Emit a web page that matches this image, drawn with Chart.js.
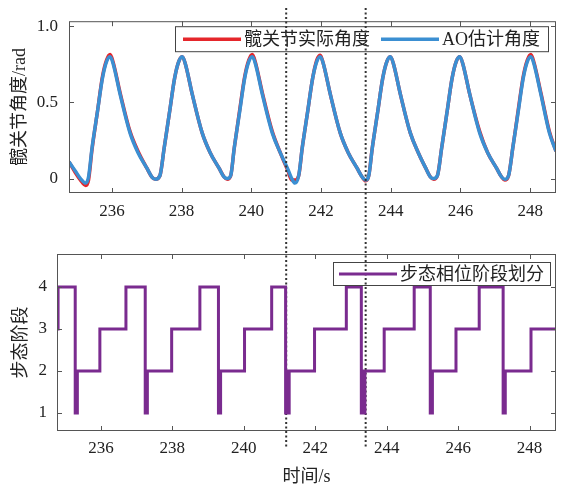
<!DOCTYPE html>
<html>
<head>
<meta charset="utf-8">
<script src="https://cdn.jsdelivr.net/npm/chart.js@4.4.1/dist/chart.umd.min.js"></script>
<style>
  html, body { margin: 0; padding: 0; background: #fff; overflow: hidden; }
  #wrap { position: relative; width: 570px; height: 485px; }
  canvas { position: absolute; left: 0; }
  #angleChart { top: 0; }
  #phaseChart { top: 230px; }
</style>
</head>
<body>
<div id="wrap">
  <canvas id="angleChart" width="570" height="485"></canvas>
  <canvas id="phaseChart" width="570" height="258"></canvas>
</div>
<script>
// hip angle, top panel
const time = [
  234.77, 234.95, 235.1, 235.25,
  235.33, 235.43, 235.58, 235.73, 235.85, 235.95,
  236.03, 236.24, 236.52, 236.75, 237.0, 237.15, 237.25,
  237.38, 237.5, 237.65, 237.8, 237.92, 238.02,
  238.1, 238.31, 238.59, 238.82, 239.07, 239.22, 239.31,
  239.41, 239.51, 239.66, 239.81, 239.93, 240.03,
  240.11, 240.32, 240.6, 240.83, 241.05, 241.16, 241.25,
  241.36, 241.46, 241.61, 241.76, 241.88, 241.98,
  242.06, 242.27, 242.55, 242.78, 243.03, 243.18, 243.28,
  243.37, 243.47, 243.62, 243.77, 243.89, 243.99,
  244.07, 244.28, 244.56, 244.79, 245.0, 245.14, 245.23,
  245.34, 245.46, 245.61, 245.76, 245.88, 245.98,
  246.06, 246.27, 246.55, 246.78, 247.03, 247.18, 247.27,
  247.38, 247.5, 247.65, 247.8, 247.92, 248.02,
  248.1, 248.31, 248.55, 248.74
];
const actualAngle = [
  0.11, 0.04, -0.01, -0.045,
  -0.01, 0.19, 0.43, 0.67, 0.78, 0.815,
  0.77, 0.56, 0.31, 0.18, 0.07, 0.01, -0.005,
  0.02, 0.2, 0.43, 0.66, 0.77, 0.80,
  0.76, 0.55, 0.30, 0.17, 0.07, 0.01, -0.005,
  0.02, 0.2, 0.44, 0.67, 0.78, 0.815,
  0.77, 0.56, 0.31, 0.17, 0.05, -0.01, -0.01,
  0.02, 0.2, 0.43, 0.66, 0.78, 0.81,
  0.76, 0.55, 0.30, 0.17, 0.07, 0.01, -0.015,
  0.02, 0.2, 0.43, 0.66, 0.77, 0.80,
  0.76, 0.55, 0.30, 0.17, 0.07, 0.01, -0.005,
  0.02, 0.2, 0.43, 0.66, 0.77, 0.80,
  0.76, 0.55, 0.31, 0.17, 0.07, 0.01, -0.01,
  0.02, 0.2, 0.44, 0.67, 0.78, 0.815,
  0.77, 0.56, 0.31, 0.18
];
const aoAngle = [
  0.11, 0.05, 0.0, -0.03,
  0.01, 0.2, 0.43, 0.66, 0.77, 0.80,
  0.76, 0.55, 0.30, 0.17, 0.07, 0.01, -0.005,
  0.02, 0.2, 0.43, 0.66, 0.77, 0.80,
  0.76, 0.55, 0.30, 0.17, 0.07, 0.01, 0.0,
  0.02, 0.2, 0.43, 0.66, 0.77, 0.80,
  0.76, 0.55, 0.30, 0.17, 0.06, 0.0, -0.03,
  0.02, 0.2, 0.43, 0.66, 0.77, 0.80,
  0.76, 0.55, 0.30, 0.17, 0.07, 0.01, -0.01,
  0.02, 0.2, 0.43, 0.66, 0.77, 0.80,
  0.76, 0.55, 0.30, 0.17, 0.07, 0.01, 0.0,
  0.02, 0.2, 0.43, 0.66, 0.77, 0.80,
  0.76, 0.55, 0.30, 0.17, 0.07, 0.01, -0.005,
  0.02, 0.2, 0.43, 0.66, 0.77, 0.80,
  0.76, 0.55, 0.30, 0.18
];

// gait phase, bottom panel
const stepTimes = [
  234.77, 234.8, 235.28, 235.3, 235.32, 235.34, 235.97, 236.7,
  237.24, 237.26, 237.28, 237.3, 237.98, 238.77,
  239.29, 239.31, 239.33, 239.35, 240.02, 240.78,
  241.17, 241.19, 241.21, 241.23, 241.25, 241.27, 241.98, 242.87,
  243.29, 243.31, 243.33, 243.35, 243.37, 243.39, 243.93, 244.77,
  245.22, 245.24, 245.26, 245.28, 245.94, 246.59,
  247.26, 247.28, 247.3, 247.32, 248.04, 248.74
];
const gaitPhase = [
  3, 4, 1, 2, 1, 2, 3, 4,
  1, 2, 1, 2, 3, 4,
  1, 2, 1, 2, 3, 4,
  1, 2, 1, 2, 1, 2, 3, 4,
  1, 2, 1, 2, 1, 2, 3, 4,
  1, 2, 1, 2, 3, 4,
  1, 2, 1, 2, 3, 3
];

const timeTicks = [236, 238, 240, 242, 244, 246, 248];
const angleTicks = [0, 0.5, 1.0];
const angleTickLabels = ['0', '0.5', '1.0'];
const phaseTicks = [1, 2, 3, 4];
const markerTimes = [241.0, 243.28];

const serif = "'Liberation Serif', 'Noto Sans CJK SC', serif";
const tickFont = { family: serif, size: 17 };
const titleFont = { family: serif, size: 18 };

const framePlugin = {
  id: 'frame',
  afterDatasetsDraw(chart) {
    const { ctx, chartArea: a, scales: { x, y } } = chart;
    ctx.save();
    ctx.strokeStyle = '#555';
    ctx.lineWidth = 1;
    ctx.strokeRect(a.left + 0.5, a.top + 0.5, a.width - 1, a.height - 1);
    ctx.beginPath();
    x.ticks.forEach(t => {
      const px = Math.round(x.getPixelForValue(t.value)) + 0.5;
      ctx.moveTo(px, a.bottom); ctx.lineTo(px, a.bottom - 5);
      ctx.moveTo(px, a.top); ctx.lineTo(px, a.top + 5);
    });
    y.ticks.forEach(t => {
      const py = Math.round(y.getPixelForValue(t.value)) + 0.5;
      ctx.moveTo(a.left, py); ctx.lineTo(a.left + 5, py);
      ctx.moveTo(a.right, py); ctx.lineTo(a.right - 5, py);
    });
    ctx.stroke();
    ctx.restore();
  }
};

const boxLegend = {
  id: 'boxLegend',
  afterDraw(chart, args, opts) {
    const { ctx, chartArea: a } = chart;
    ctx.save();
    ctx.font = `${titleFont.size}px ${serif}`;
    const items = chart.data.datasets.map(ds => ({ ds, w: ctx.measureText(ds.label).width }));
    let width = opts.pad * 2 + opts.spacing * (items.length - 1);
    items.forEach(it => { width += opts.sample + opts.gap + it.w; });
    const left = a.right - opts.right - width;
    const top = a.top + opts.top;
    ctx.strokeStyle = '#444';
    ctx.lineWidth = 1;
    ctx.strokeRect(Math.round(left) + 0.5, top + 0.5, Math.round(width), opts.height);
    let xPos = left + opts.pad;
    const cy = top + opts.height / 2 + 0.5;
    items.forEach(it => {
      ctx.strokeStyle = it.ds.borderColor;
      ctx.lineWidth = it.ds.borderWidth;
      ctx.beginPath();
      ctx.moveTo(xPos, cy);
      ctx.lineTo(xPos + opts.sample, cy);
      ctx.stroke();
      xPos += opts.sample + opts.gap;
      ctx.fillStyle = '#222';
      ctx.textBaseline = 'middle';
      ctx.fillText(it.ds.label, xPos, cy + 1);
      xPos += it.w + opts.spacing;
    });
    ctx.restore();
  }
};

const markerPlugin = {
  id: 'phaseMarkers',
  afterDraw(chart) {
    const { ctx, scales: { x } } = chart;
    ctx.save();
    ctx.strokeStyle = '#333';
    ctx.lineWidth = 2;
    ctx.setLineDash([2, 2.5]);
    markerTimes.forEach(t => {
      const px = x.getPixelForValue(t);
      ctx.beginPath();
      ctx.moveTo(px, 8);
      ctx.lineTo(px, chart.height - 38);
      ctx.stroke();
    });
    ctx.restore();
  }
};

const xScale = (height, padding, title) => ({
  type: 'linear',
  min: 234.77,
  max: 248.74,
  afterBuildTicks: s => { s.ticks = timeTicks.map(v => ({ value: v })); },
  afterFit: s => { s.height = height; },
  grid: { display: false, drawTicks: false },
  border: { display: false },
  ticks: { padding, font: tickFont, color: '#222', maxRotation: 0 },
  title: title ? { display: true, text: title, font: titleFont, color: '#222', padding: { top: 0, bottom: 0 } } : { display: false }
});

new Chart(document.getElementById('angleChart'), {
  type: 'line',
  data: {
    datasets: [
      {
        label: '髋关节实际角度',
        data: time.map((t, i) => ({ x: t, y: actualAngle[i] })),
        borderColor: '#e5262b',
        borderWidth: 3.5,
        order: 1
      },
      {
        label: 'AO估计角度',
        data: time.map((t, i) => ({ x: t, y: aoAngle[i] })),
        borderColor: '#3b8fd2',
        borderWidth: 3.5,
        order: 0
      }
    ]
  },
  options: {
    responsive: false,
    animation: false,
    layout: { padding: { top: 18, right: 14, bottom: 262, left: 0 } },
    elements: { point: { radius: 0 }, line: { cubicInterpolationMode: 'monotone' } },
    plugins: {
      legend: { display: false },
      tooltip: { enabled: false },
      boxLegend: { right: 8, top: 5, height: 25, pad: 8, sample: 58, gap: 3, spacing: 11 }
    },
    scales: {
      x: xScale(30, 8),
      y: {
        min: -0.095,
        max: 1.034,
        afterBuildTicks: s => { s.ticks = angleTicks.map(v => ({ value: v })); },
        afterFit: s => { s.width = 69; },
        grid: { display: false, drawTicks: false },
        border: { display: false },
        ticks: { padding: 11, font: tickFont, color: '#222', callback: (v, i) => angleTickLabels[i] },
        title: { display: true, text: '髋关节角度/rad', font: titleFont, color: '#222', padding: { top: 9, bottom: 0 } }
      }
    }
  },
  plugins: [framePlugin, boxLegend, markerPlugin]
});

new Chart(document.getElementById('phaseChart'), {
  type: 'line',
  data: {
    datasets: [
      {
        label: '步态相位阶段划分',
        data: stepTimes.map((t, i) => ({ x: t, y: gaitPhase[i] })),
        borderColor: '#7a2b8f',
        borderWidth: 3,
        stepped: 'before'
      }
    ]
  },
  options: {
    responsive: false,
    animation: false,
    layout: { padding: { top: 24, right: 14, bottom: 0, left: 0 } },
    elements: { point: { radius: 0 } },
    plugins: {
      legend: { display: false },
      tooltip: { enabled: false },
      boxLegend: { right: 6, top: 8, height: 23, pad: 6, sample: 58, gap: 3, spacing: 10 }
    },
    scales: {
      x: xScale(57, 7, '时间/s'),
      y: {
        min: 0.571,
        max: 4.786,
        afterBuildTicks: s => { s.ticks = phaseTicks.map(v => ({ value: v })); },
        afterFit: s => { s.width = 57; },
        grid: { display: false, drawTicks: false },
        border: { display: false },
        ticks: { padding: 10, font: tickFont, color: '#222' },
        title: { display: true, text: '步态阶段', font: titleFont, color: '#222', padding: { top: 10, bottom: 0 } }
      }
    }
  },
  plugins: [framePlugin, boxLegend]
});
</script>
</body>
</html>
